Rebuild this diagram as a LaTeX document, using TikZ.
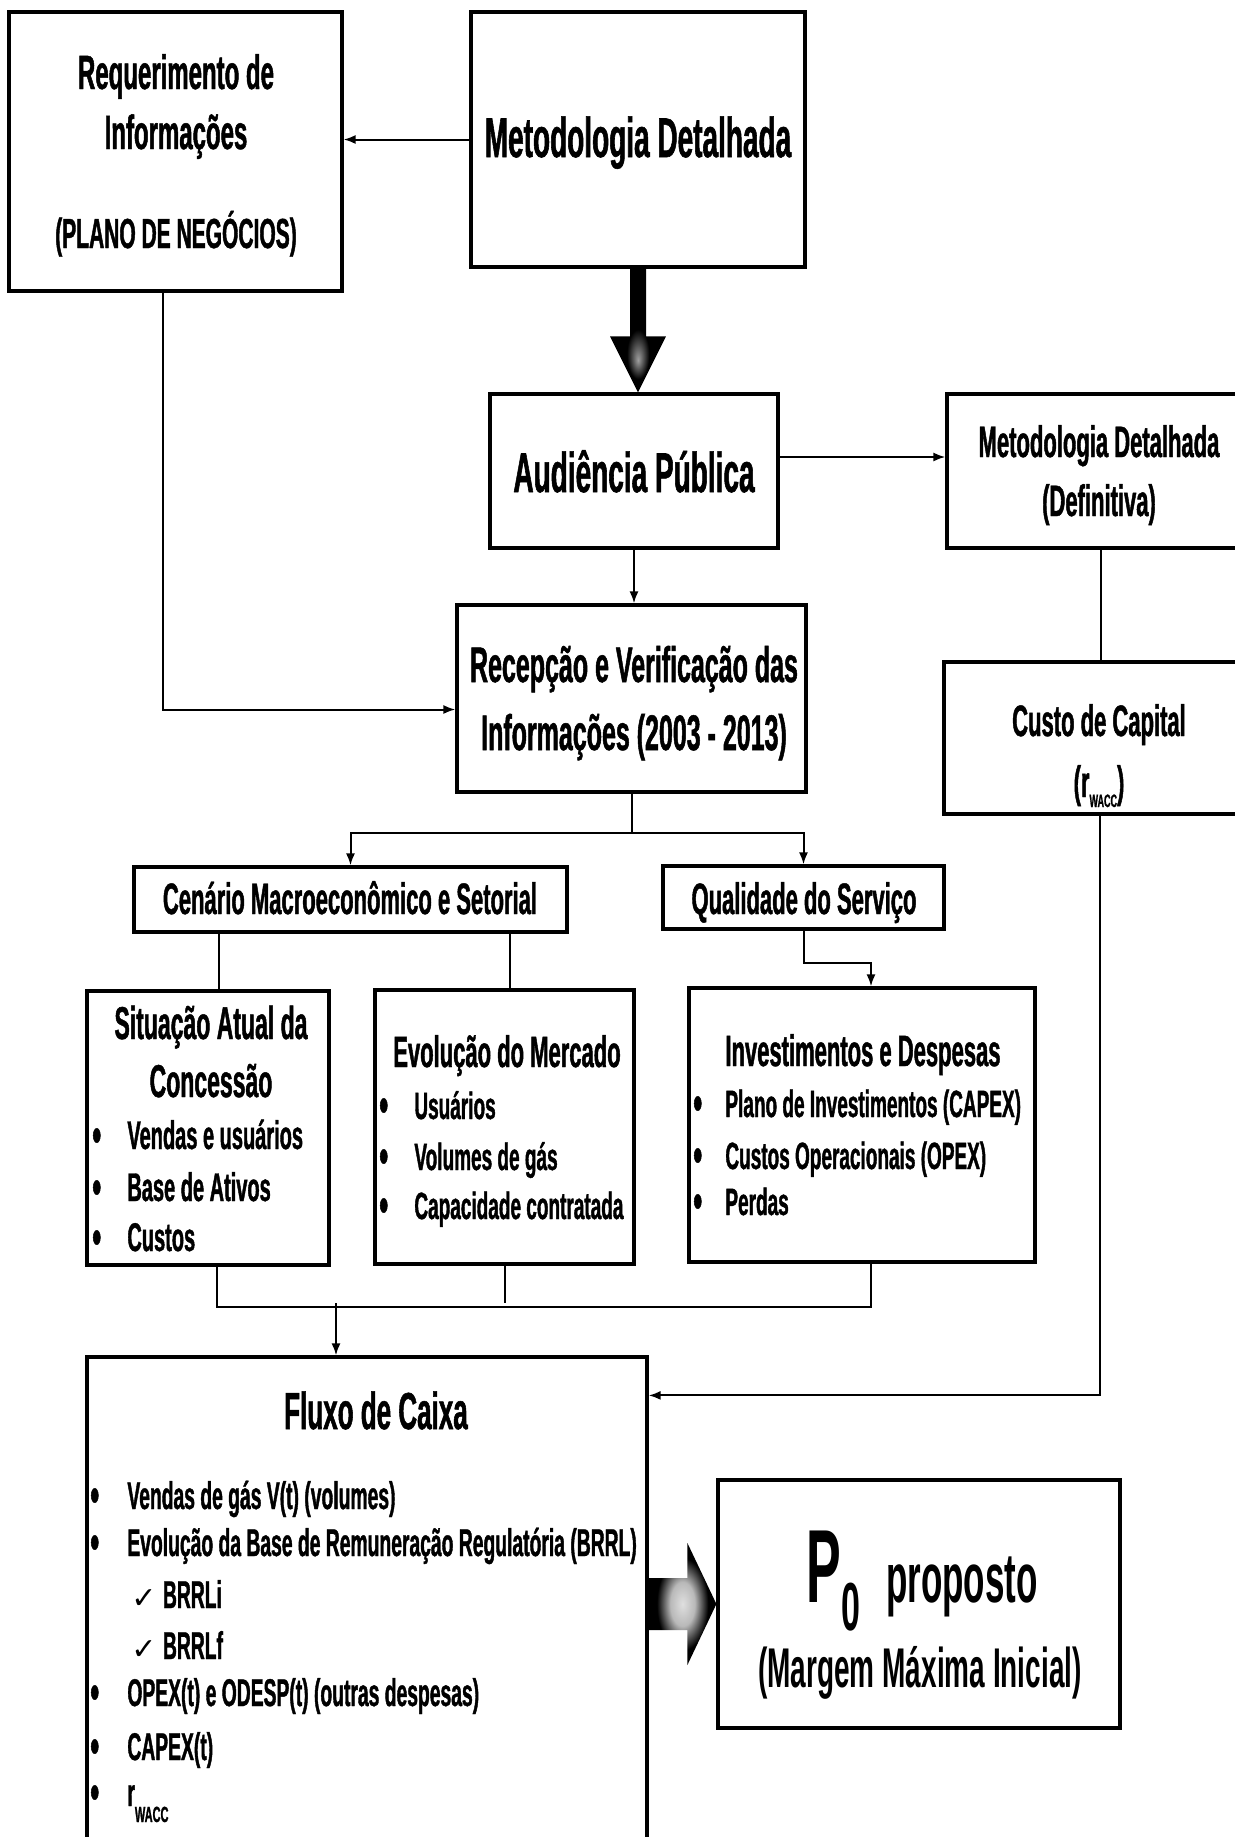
\documentclass[tikz,border=0pt]{standalone}
\usepackage{fontspec}
\newfontfamily\narrow{Liberation Sans}[FakeStretch=0.5,BoldFeatures={FakeBold=1}]
\newfontfamily\narrowlight{Liberation Sans}[FakeStretch=0.5]
\newfontfamily\symb{DejaVu Sans}
\usetikzlibrary{arrows.meta,calc,fit}
\newcommand{\fsz}[1]{\fontsize{#1}{#1}\selectfont}
\newcommand{\blt}{\raisebox{-1.5pt}{\fsz{25}•}}
\pgfdeclareradialshading{downspot}{\pgfpoint{0bp}{-12bp}}{color(0bp)=(gray!75);color(10bp)=(black);color(50bp)=(black)}
\pgfdeclareradialshading{rightspot}{\pgfpoint{0bp}{0bp}}{color(0bp)=(gray!25);color(9bp)=(gray!55);color(19bp)=(black);color(50bp)=(black)}
\tikzset{
  box/.style={draw,line width=1.6pt,inner sep=0pt,fill=white},
  txt/.style={anchor=base,inner sep=0pt,font=\narrow\bfseries\fsz{#1}},
  txt/.default=22,
  itm/.style={anchor=base west,inner sep=0pt,font=\narrow\bfseries\fsz{#1}},
  itm/.default=19,
  line/.style={line width=1pt},
  arr/.style={line width=1pt,-{Latex[length=6pt,width=4.5pt]}}
}
\begin{document}
\begin{tikzpicture}[x=0.5pt,y=-0.5pt]
\useasboundingbox (0,0) rectangle (1235,1837);
\fill[white] (0,0) rectangle (1235,1837);
% caixas
\node[box,fit={(9,12)(342,291)}] (req) {};
\node[box,fit={(471,12)(805,267)}] (metod) {};
\node[box,fit={(490,394)(778,548)}] (aud) {};
\node[box,fit={(947,394)(1255,548)}] (defin) {};
\node[box,fit={(457,605)(806,792)}] (recep) {};
\node[box,fit={(944,662)(1255,814)}] (custo) {};
\node[box,fit={(134,867)(567,932)}] (cen) {};
\node[box,fit={(663,866)(944,929)}] (qual) {};
\node[box,fit={(87,991)(329,1265)}] (sit) {};
\node[box,fit={(375,990)(634,1264)}] (evol) {};
\node[box,fit={(689,988)(1035,1262)}] (inv) {};
\node[box,fit={(87,1357)(647,1900)}] (fluxo) {};
\node[box,fit={(718,1480)(1120,1728)}] (pzero) {};
% textos
\node[txt=24] (req-a) at (176,89) {Requerimento de};
\node[txt=24] (req-b) at (176,149) {Informações};
\node[txt=21] (req-c) at (176,248) {(PLANO DE NEGÓCIOS)};
\node[txt=28] (metod-t) at (638,157) {Metodologia Detalhada};
\node[txt=28] (aud-t) at (634,492) {Audiência Pública};
\node[txt] (defin-a) at (1099,457) {Metodologia Detalhada};
\node[txt] (defin-b) at (1099,516) {(Definitiva)};
\node[txt=25] (recep-a) at (634,682) {Recepção e Verificação das};
\node[txt=25] (recep-b) at (634,750) {Informações (2003 - 2013)};
\node[txt] (custo-a) at (1099,736) {Custo de Capital};
\node[txt] (custo-b) at (1099,797) {(r\raisebox{-5pt}{\fsz{9}WACC})};
\node[txt] (cen-t) at (350,914) {Cenário Macroeconômico e Setorial};
\node[txt] (qual-t) at (804,914) {Qualidade do Serviço};
\node[txt=23] (sit-a) at (211,1039) {Situação Atual da};
\node[txt=23] (sit-b) at (211,1097) {Concessão};
\node[txt] (evol-t) at (507,1067) {Evolução do Mercado};
\node[txt] (inv-t) at (863,1066) {Investimentos e Despesas};
\node[txt=26] (fluxo-t) at (376,1429) {Fluxo de Caixa};
\foreach \y/\lbl [count=\i] in {1149/Vendas e usuários,1201/Base de Ativos,1251/Custos}{
  \node[itm] (sit-d\i) at (92,\y) {\blt};
  \node[itm=20] (sit-\i) at (127,\y) {\lbl};
}
\foreach \y/\lbl [count=\i] in {1119/Usuários,1170/Volumes de gás,1219/Capacidade contratada}{
  \node[itm] (evol-d\i) at (379,\y) {\blt};
  \node[itm] (evol-\i) at (414,\y) {\lbl};
}
\foreach \y/\lbl [count=\i] in {1117/{Plano de Investimentos (CAPEX)},1169/{Custos Operacionais (OPEX)},1215/Perdas}{
  \node[itm] (inv-d\i) at (693,\y) {\blt};
  \node[itm] (inv-\i) at (725,\y) {\lbl};
}
\foreach \y/\lbl [count=\i] in {1509/{Vendas de gás V(t) (volumes)},1556/{Evolução da Base de Remuneração Regulatória (BRRL)},1706/{OPEX(t) e ODESP(t) (outras despesas)},1760/{CAPEX(t)},1806/{r\raisebox{-8pt}{\fsz{11}WACC}}}{
  \node[itm] (fluxo-d\i) at (90,\y) {\blt};
  \node[itm=19.3] (fluxo-\i) at (127,\y) {\lbl};
}
\foreach \y/\lbl [count=\i] in {1608/BRRLi,1659/BRRLf}{
  \node[itm=19.3] (fluxo-c\i) at (131,\y) {{\symb\fsz{15}✓}\,\lbl};
}
\node[itm=52,font=\narrowlight\bfseries\fsz{52}] (pzero-a) at (806,1602) {P\raisebox{-14pt}{\fsz{34}0}\hspace{13pt}{\fsz{35}proposto}};
\node[txt=28,font=\narrowlight\bfseries\fsz{28}] (pzero-b) at (920,1687) {(Margem Máxima Inicial)};
% conexoes
\draw[arr] (metod.west) -- (metod.west -| req.east);
\coordinate (dtip) at (metod.south |- aud.north);
\shade[shading=downspot] ($(metod.south)+(-8,0)$) -- ($(dtip)+(-8,-56)$) -- ($(dtip)+(-28,-56)$) -- (dtip)
  -- ($(dtip)+(28,-56)$) -- ($(dtip)+(8,-56)$) -- ($(metod.south)+(8,0)$) -- cycle;
\coordinate (ad) at ($(aud.east)+(0,-14)$);
\draw[arr] (ad) -- (ad -| defin.west);
\draw[arr] (aud.south) -- (aud.south |- recep.north);
\coordinate (rq) at ($(req.south)+(-13,0)$);
\coordinate (rc) at ($(recep.west)+(0,11)$);
\draw[arr] (rq) |- (rc);
\draw[line] (defin.south) -- (defin.south |- custo.north);
\coordinate (split) at ($(recep.south)+(0,39)$);
\draw[line] (recep.south) -- (split);
\draw[arr] (split) -| (cen.north);
\draw[arr] (split) -| (qual.north);
\coordinate (sa) at ($(sit.north)+(11,0)$);
\coordinate (ea) at ($(evol.north)+(5,0)$);
\draw[line] (sa |- cen.south) -- (sa);
\draw[line] (ea |- cen.south) -- (ea);
\draw[arr] (qual.south) -- ++(0,32) -| ($(inv.north)+(9,0)$);
\coordinate (join) at ($(fluxo.north)+(-31,-52)$);
\draw[line] ($(sit.south)+(9,0)$) |- ($(inv.south)+(9,43)$) -- ($(inv.south)+(9,0)$);
\draw[line] (evol.south) -- (evol.south |- join);
\draw[arr] (join) -- (join |- fluxo.north);
\draw[arr] (custo.south) |- ($(fluxo.north east)+(0,40)$);
\coordinate (rtip) at (pzero.west);
\coordinate (rbase) at (fluxo.east |- pzero.west);
\shade[shading=rightspot] ($(rbase)+(0,-26)$) -- ($(rtip)+(-29,-26)$) -- ($(rtip)+(-29,-61)$) -- (rtip)
  -- ($(rtip)+(-29,61)$) -- ($(rtip)+(-29,26)$) -- ($(rbase)+(0,26)$) -- cycle;
\end{tikzpicture}
\end{document}
